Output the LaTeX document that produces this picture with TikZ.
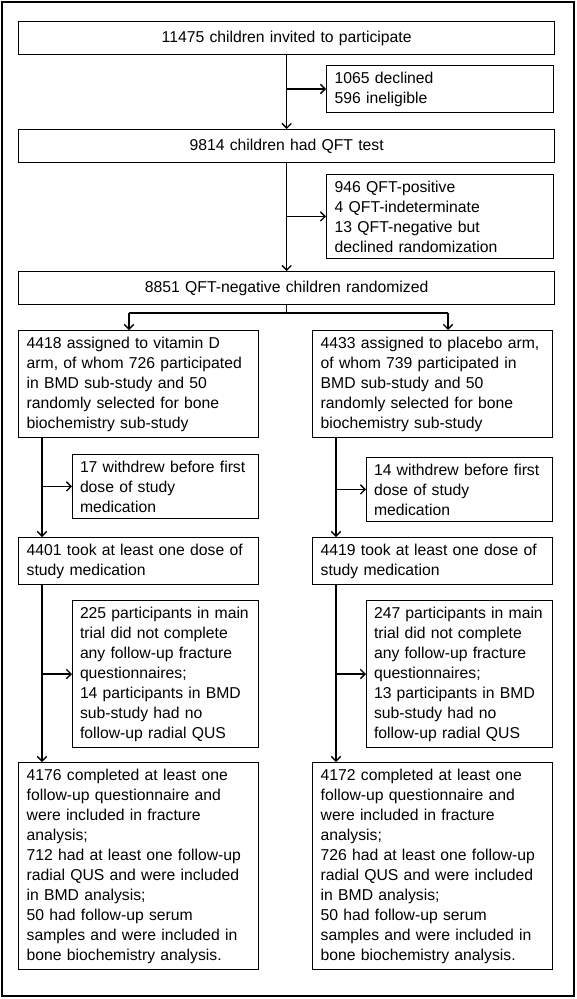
\documentclass[tikz,border=0pt]{standalone}
\usepackage{fontspec}
\setmainfont{Liberation Sans}
\usetikzlibrary{arrows.meta}
\newcommand{\flowfont}{\fontsize{11.8}{15}\selectfont}

\begin{document}
\begin{tikzpicture}[x=0.75pt, y=-0.75pt, line width=1pt]
\tikzset{box/.style = {draw, anchor=north west, inner xsep=6pt, inner ysep=4.5pt, align=left, font=\flowfont}}
\tikzset{wide box/.style = {box, text width=390pt, align=center, minimum height=24.75pt}}
\tikzset{arm box/.style = {box, text width=168pt}}
\tikzset{out box/.style = {box, text width=158.25pt}}
\tikzset{side box/.style = {box, inner xsep=5.5pt, text width=128.5pt}}
\tikzset{edge/.style = {-{Straight Barb[length=3.5pt,width=7pt]}}}

\useasboundingbox (0,0) rectangle (576,999);
\draw[line width=1.5pt] (2,2) rectangle (574,996);

% screening
\node[wide box] (invited) at (18,21) {11475 children invited to participate};
\node[out box] (declined) at (326,65) {1065 declined\\596 ineligible};
\node[wide box] (qft) at (18,129) {9814 children had QFT test};
\node[out box] (excluded) at (326,174) {946 QFT-positive\\4 QFT-indeterminate\\13 QFT-negative but\\declined randomization};
\node[wide box] (rand) at (18,271) {8851 QFT-negative children randomized};

% vitamin D arm
\node[arm box] (vitd) at (18,330) {4418 assigned to vitamin D\\arm, of whom 726 participated\\in BMD sub-study and 50\\randomly selected for bone\\biochemistry sub-study};
\node[side box] (withdrewD) at (72,454) {17 withdrew before first\\dose of study\\medication};
\node[arm box] (tookD) at (18,537) {4401 took at least one dose of\\study medication};
\node[side box] (lostD) at (72,600) {225 participants in main\\trial did not complete\\any follow-up fracture\\questionnaires;\\14 participants in BMD\\sub-study had no\\follow-up radial QUS};
\node[arm box] (doneD) at (18,762) {4176 completed at least one\\follow-up questionnaire and\\were included in fracture\\analysis;\\712 had at least one follow-up\\radial QUS and were included\\in BMD analysis;\\50 had follow-up serum\\samples and were included in\\bone biochemistry analysis.};

% placebo arm
\node[arm box] (plac) at (312,330) {4433 assigned to placebo arm,\\of whom 739 participated in\\BMD sub-study and 50\\randomly selected for bone\\biochemistry sub-study};
\node[side box] (withdrewP) at (366,457) {14 withdrew before first\\dose of study\\medication};
\node[arm box] (tookP) at (312,537) {4419 took at least one dose of\\study medication};
\node[side box] (lostP) at (366,600) {247 participants in main\\trial did not complete\\any follow-up fracture\\questionnaires;\\13 participants in BMD\\sub-study had no\\follow-up radial QUS};
\node[arm box] (doneP) at (312,762) {4172 completed at least one\\follow-up questionnaire and\\were included in fracture\\analysis;\\726 had at least one follow-up\\radial QUS and were included\\in BMD analysis;\\50 had follow-up serum\\samples and were included in\\bone biochemistry analysis.};

\draw[edge] (invited.south) -- (qft.north);
\draw[edge] (invited.south |- declined.west) -- (declined.west);
\draw[edge] (qft.south) -- (rand.north);
\draw[edge] (qft.south |- excluded.west) -- (excluded.west);

\coordinate (splitL) at (129,313);
\coordinate (splitR) at (448,313);
\draw (rand.south) -- (rand.south |- splitL);
\draw (splitL) -- (splitR);
\draw[edge] (splitL) -- (splitL |- vitd.north);
\draw[edge] (splitR) -- (splitR |- plac.north);

\coordinate (spineD) at ([xshift=18pt]vitd.south west);
\coordinate (spineP) at ([xshift=18pt]plac.south west);
\draw[edge] (spineD) -- (spineD |- tookD.north);
\draw[edge] (spineD |- withdrewD.west) -- (withdrewD.west);
\draw[edge] (spineP) -- (spineP |- tookP.north);
\draw[edge] (spineP |- withdrewP.west) -- (withdrewP.west);

\coordinate (stemD) at ([xshift=18pt]tookD.south west);
\coordinate (stemP) at ([xshift=18pt]tookP.south west);
\draw[edge] (stemD) -- (stemD |- doneD.north);
\draw[edge] (stemD |- lostD.west) -- (lostD.west);
\draw[edge] (stemP) -- (stemP |- doneP.north);
\draw[edge] (stemP |- lostP.west) -- (lostP.west);
\end{tikzpicture}
\end{document}
